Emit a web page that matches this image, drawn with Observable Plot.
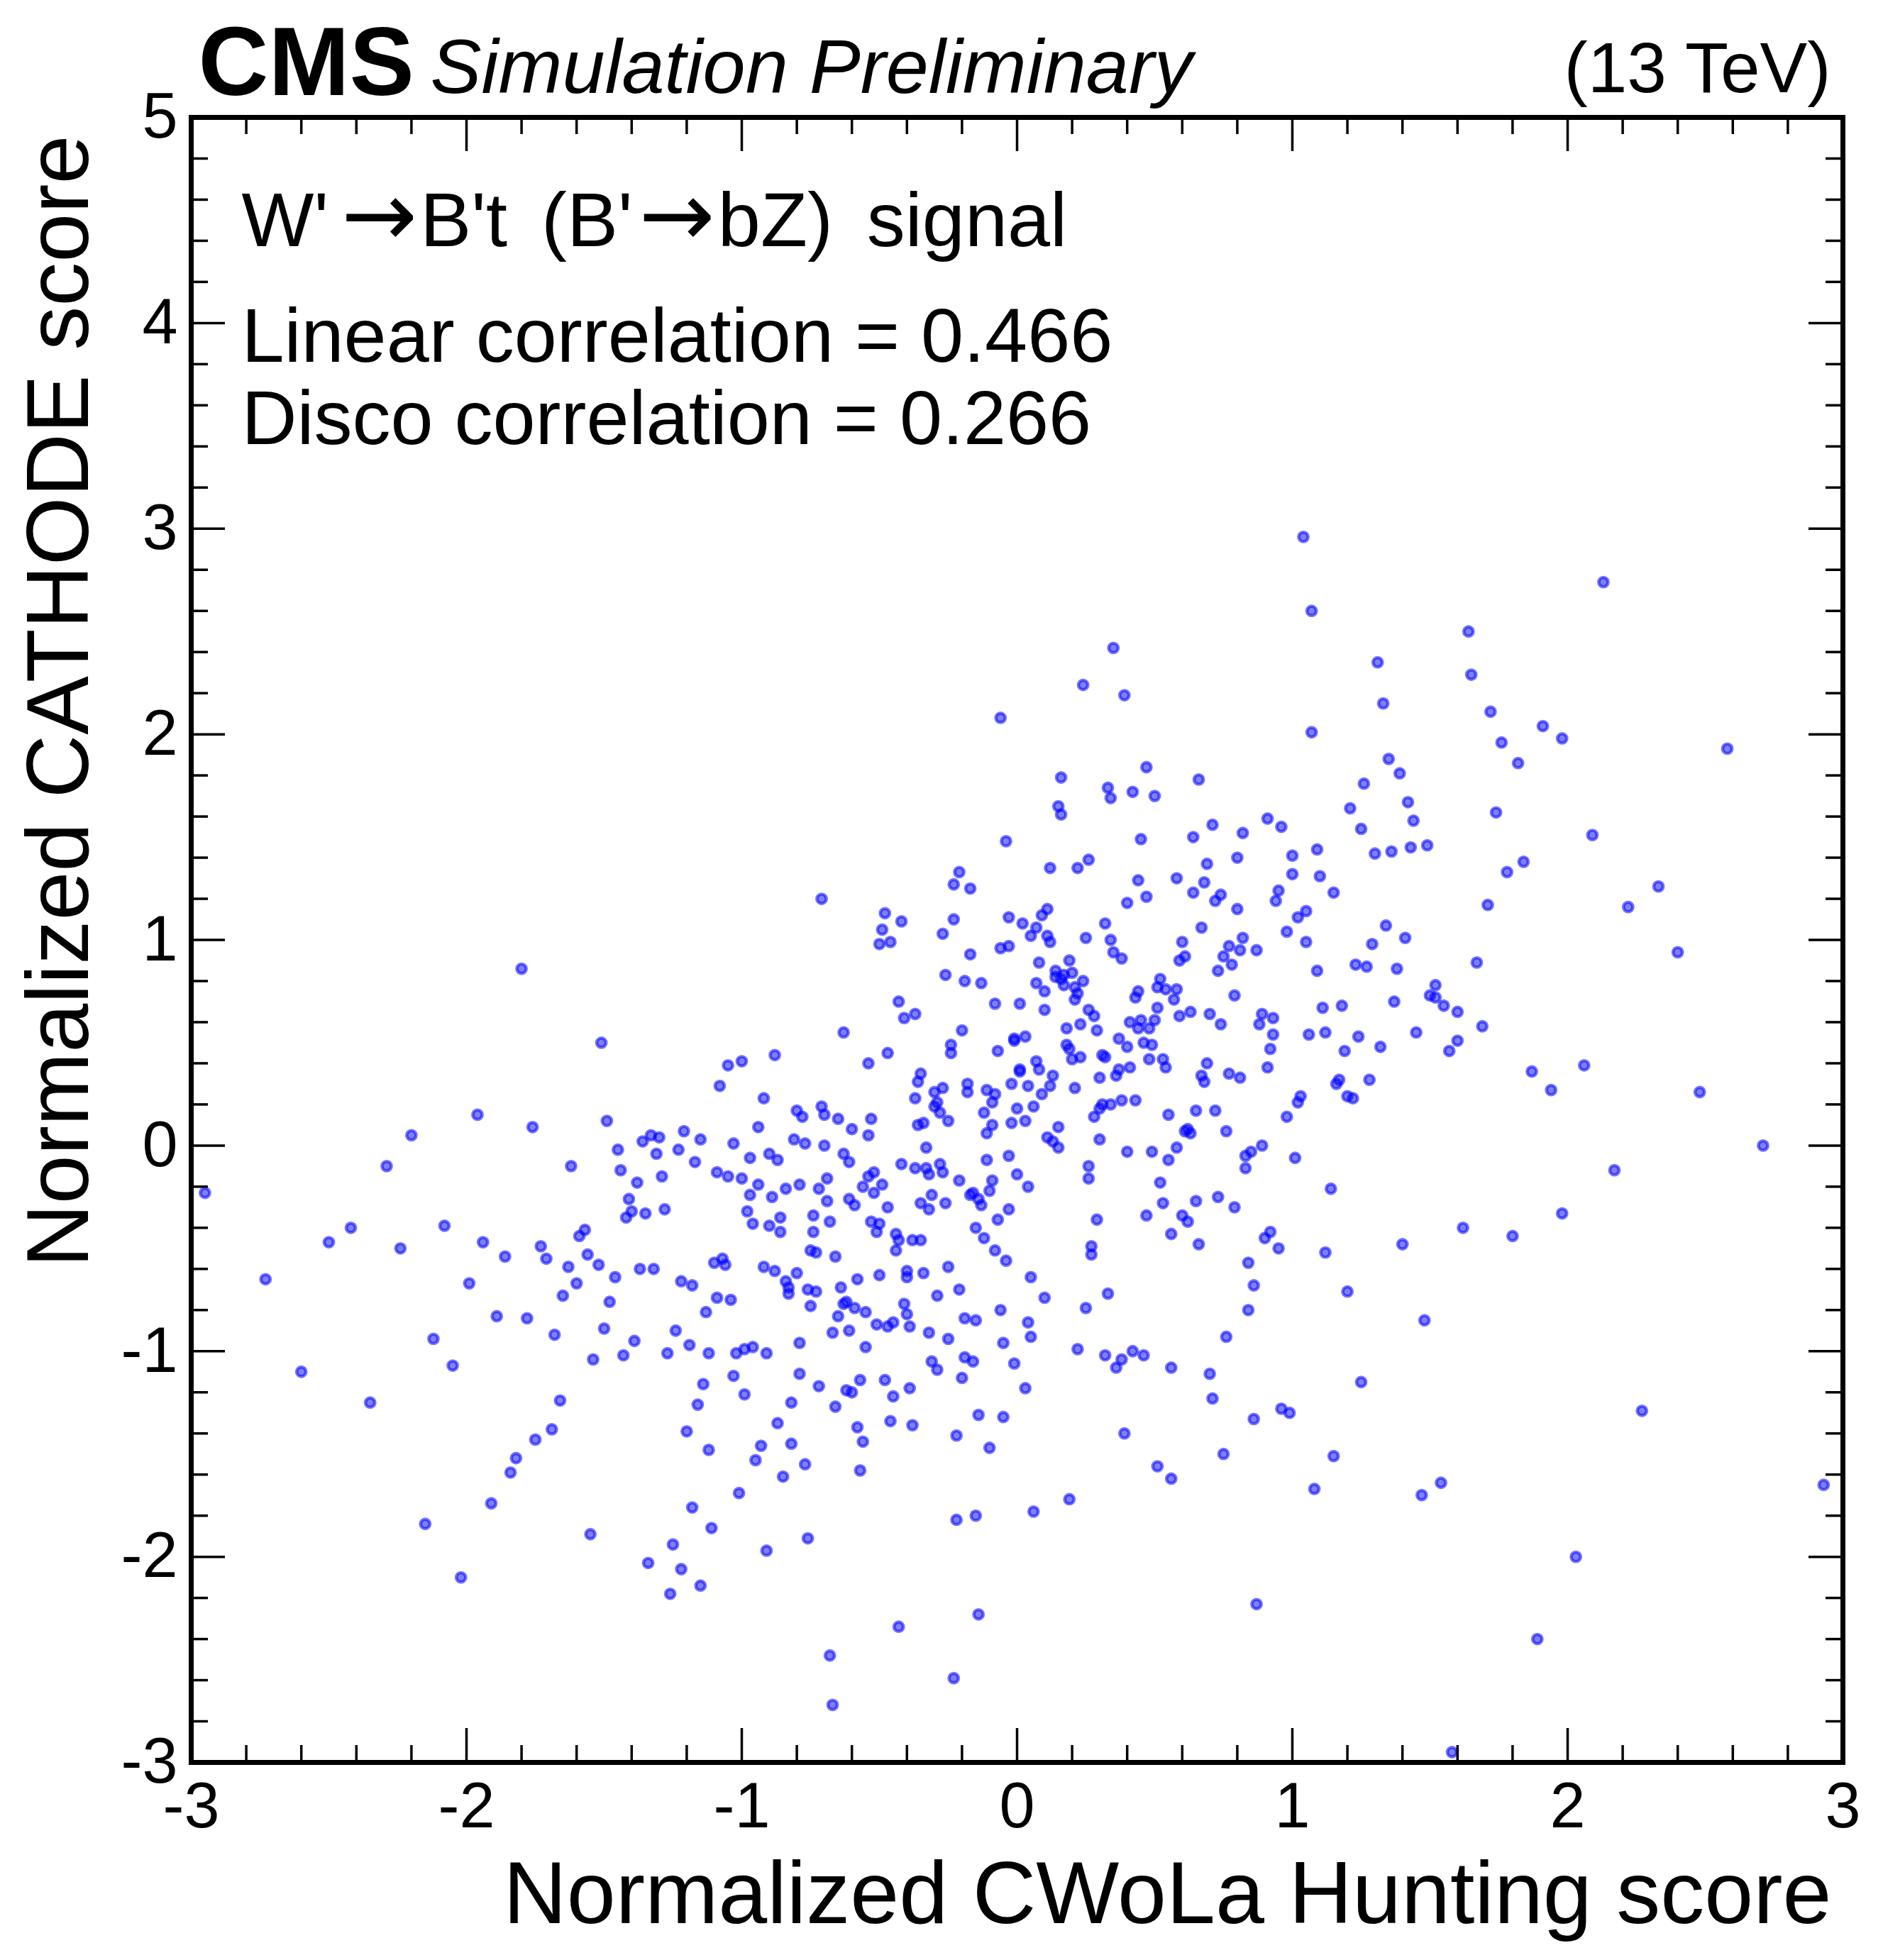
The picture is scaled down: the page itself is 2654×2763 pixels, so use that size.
<!DOCTYPE html>
<html>
<head>
<meta charset="utf-8">
<script src="https://cdn.jsdelivr.net/npm/d3@7"></script>
<script src="https://cdn.jsdelivr.net/npm/@observablehq/plot@0.6"></script>
<style>
html, body { margin: 0; padding: 0; background: #ffffff; }
#chart svg { display: block; }
</style>
</head>
<body>
<div id="chart"></div>
<script>
// ---- tick values ----
const xMajorTicks = [-3, -2, -1, 0, 1, 2, 3];
const xMinorTicks = [-2.8, -2.6, -2.4, -2.2, -1.8, -1.6, -1.4, -1.2, -0.8, -0.6, -0.4, -0.2,
  0.2, 0.4, 0.6, 0.8, 1.2, 1.4, 1.6, 1.8, 2.2, 2.4, 2.6, 2.8];
const yMajorTicks = [-3, -2, -1, 0, 1, 2, 3, 4, 5];
const yMinorTicks = [-2.8, -2.6, -2.4, -2.2, -1.8, -1.6, -1.4, -1.2, -0.8, -0.6, -0.4, -0.2,
  0.2, 0.4, 0.6, 0.8, 1.2, 1.4, 1.6, 1.8, 2.2, 2.4, 2.6, 2.8, 3.2, 3.4, 3.6, 3.8, 4.2, 4.4, 4.6, 4.8];

// ---- texts ----
const xTitle = "Normalized CWoLa Hunting score";
const yTitle = "Normalized CATHODE score";
const experimentLabel = "CMS";
const statusLabel = "Simulation Preliminary";
const energyLabel = "(13 TeV)";
const signalLabel = "W'\u2192B't (B'\u2192bZ) signal";
const linearLabel = "Linear correlation = 0.466";
const discoLabel = "Disco correlation = 0.266";

// ---- signal events: [CWoLa score, CATHODE score] ----
const coreEvents = [
[-0.50,0.98],[-0.46,0.99],[-0.17,0.93],[-0.06,0.96],[-0.03,0.97],[0.05,1.02],[0.12,0.99],[0.25,1.01],[0.34,1.00],[0.60,0.99],[0.35,0.94],[0.38,0.91],[0.59,0.90],[0.61,0.92],[0.77,0.97],[0.81,0.95],[0.87,0.95],[0.75,0.92],[0.78,0.88],[0.73,0.85],[0.08,0.89],[0.19,0.90],
[-0.26,0.83],[-0.19,0.80],[-0.13,0.79],[0.14,0.85],[0.17,0.83],[0.20,0.84],[0.14,0.82],[0.16,0.81],[0.17,0.78],[0.07,0.79],[0.10,0.75],[0.21,0.77],[0.22,0.74],[0.21,0.71],[0.24,0.80],[0.52,0.81],[0.51,0.77],[0.54,0.76],[0.58,0.76],[0.57,0.71],[0.44,0.75],[0.43,0.72],[0.79,0.73],
[-0.43,0.70],[-0.41,0.62],[-0.37,0.64],[-0.08,0.69],[0.01,0.69],[0.10,0.66],[0.26,0.66],[0.28,0.63],[0.51,0.67],[0.63,0.65],[0.59,0.63],[0.70,0.64],[0.74,0.59],[0.89,0.64],[0.93,0.62],[0.88,0.59],
[-0.63,0.55],[-0.20,0.56],[-0.01,0.52],[-0.01,0.51],[0.03,0.53],[0.18,0.57],[0.23,0.59],[0.29,0.56],[0.41,0.60],[0.45,0.61],[0.44,0.57],[0.48,0.57],[0.50,0.61],[0.93,0.54],[0.92,0.47],
[-1.00,0.41],[-0.88,0.44],[-0.54,0.40],[-0.47,0.45],[-0.24,0.49],[-0.24,0.45],[-0.07,0.46],[0.18,0.49],[0.19,0.47],[0.23,0.43],[0.20,0.42],[0.31,0.44],[0.32,0.43],[0.37,0.52],[0.40,0.48],[0.46,0.50],[0.49,0.49],[0.48,0.42],[0.53,0.42],[0.54,0.38],[0.69,0.40],[0.91,0.38],
[-0.35,0.35],[-0.36,0.31],[-0.18,0.30],[-0.18,0.26],[-0.11,0.27],[-0.08,0.25],[-0.09,0.21],[-0.02,0.30],[0.01,0.37],[0.01,0.36],[0.04,0.29],[0.07,0.41],[0.08,0.37],[0.13,0.34],[0.12,0.29],[0.09,0.25],[0.21,0.28],[0.30,0.33],[0.36,0.34],[0.37,0.37],[0.41,0.38],[0.67,0.34],[0.68,0.31],[0.77,0.35],[0.81,0.33],
[-0.30,0.26],[-0.27,0.28],[-0.37,0.23],[-0.29,0.21],[-0.30,0.19],[-0.28,0.16],[-0.25,0.12],[-0.36,0.10],[-0.34,0.11],[-0.12,0.16],[-0.09,0.10],[-0.11,0.06],[-0.02,0.11],[0.03,0.12],[0.00,0.18],[0.06,0.19],[0.31,0.20],[0.30,0.18],[0.34,0.20],[0.38,0.22],[0.43,0.22],[0.28,0.14],[0.55,0.15],[0.65,0.17],[0.72,0.17],[0.98,0.14],
[-0.92,0.23],[-0.80,0.17],[-0.78,0.14],[-0.71,0.19],[-0.70,0.15],[-0.65,0.13],[-0.53,0.13],[-0.60,0.08],[-0.54,0.05],[-0.94,0.09],
[0.15,0.09],[0.11,0.04],[0.13,0.02],[0.15,-0.01],[0.30,0.03],[0.61,0.07],[0.62,0.08],[0.63,0.06],[0.76,0.07],[0.40,-0.03],[0.49,-0.03],[0.55,-0.07],[0.58,-0.01],[0.83,-0.05],[0.85,-0.03],[0.89,0.00],[0.83,-0.11],
[-0.81,0.03],[-0.77,0.01],[-0.70,0.00],[-0.97,-0.06],[-0.90,-0.04],[-0.87,-0.07],[-0.63,-0.04],[-0.61,-0.08],[-0.33,-0.01],[-0.42,-0.09],[-0.37,-0.11],[-0.33,-0.11],[-0.32,-0.14],[-0.28,-0.09],[-0.27,-0.13],[-0.11,-0.07],[-0.03,-0.05],[0.00,-0.14],[0.26,-0.10],[0.26,-0.16],
[-1.00,-0.16],[-0.94,-0.19],[-0.84,-0.21],[-0.79,-0.19],[-0.72,-0.21],[-0.69,-0.16],[-0.56,-0.20],[-0.54,-0.15],[-0.52,-0.13],[-0.52,-0.23],[-0.49,-0.19],[-0.21,-0.17],[-0.09,-0.17],[-0.10,-0.22],[-0.17,-0.24],[-0.16,-0.23],[-0.14,-0.26],[-0.13,-0.29],[-0.31,-0.24],[-0.26,-0.28],[-0.35,-0.28],[-0.32,-0.31],[0.04,-0.20],[0.52,-0.18],
[-0.97,-0.24],[-0.89,-0.25],[-0.98,-0.32],[-0.96,-0.38],[-0.90,-0.39],[-0.86,-0.35],[-0.86,-0.42],[-0.74,-0.34],[-0.74,-0.42],[-0.68,-0.37],[-0.69,-0.27],[-0.61,-0.26],[-0.59,-0.29],[-0.47,-0.30],[-0.53,-0.37],[-0.50,-0.38],[-0.51,-0.42],[-0.44,-0.43],[-0.43,-0.46],[-0.44,-0.51],[-0.38,-0.46],[-0.35,-0.46],[-0.15,-0.40],[-0.07,-0.36],[-0.03,-0.31],[-0.12,-0.45],[-0.08,-0.51],[-0.04,-0.56],[0.29,-0.36],[0.27,-0.49],[0.27,-0.53],[0.47,-0.34],[0.53,-0.28],[0.65,-0.27],[0.73,-0.25],[0.79,-0.30],[0.60,-0.34],[0.62,-0.37],[0.56,-0.43],[0.66,-0.48],[0.92,-0.42],[0.90,-0.45],[0.95,-0.50],[0.84,-0.57],[0.86,-0.68],[0.84,-0.80],[0.76,-0.93],
[-0.75,-0.51],[-0.73,-0.52],[-0.66,-0.54],[-0.92,-0.59],[-0.88,-0.61],[-0.80,-0.62],[-0.84,-0.66],[-0.83,-0.69],[-0.83,-0.72],[-0.76,-0.70],[-0.73,-0.71],[-0.64,-0.69],[-0.58,-0.65],[-0.50,-0.63],[-0.40,-0.61],[-0.40,-0.64],[-0.34,-0.62],[-0.25,-0.59],[0.05,-0.64],[0.10,-0.74],[0.33,-0.72],[0.25,-0.79],[-0.75,-0.78],[-0.65,-0.83],[-0.63,-0.77],[-0.62,-0.76],[-0.59,-0.79],[-0.55,-0.81],[-0.41,-0.77],[-0.40,-0.82],[-0.29,-0.73],[-0.21,-0.70],[-0.06,-0.80],[-0.19,-0.84],[-0.15,-0.85],[0.04,-0.86],[0.05,-0.93],[-0.51,-0.87],[-0.47,-0.88],[-0.45,-0.86],[-0.39,-0.88],[-0.32,-0.91],[-0.25,-0.94],[-0.61,-0.90],[-0.67,-0.91],[-0.79,-0.96],[-0.55,-0.98],[-0.99,-0.99],[-0.96,-0.98],[-0.91,-1.01],[-0.05,-0.96],[0.22,-0.99],[0.32,-1.02],[0.42,-1.00],[0.46,-1.02],[0.38,-1.04]
];
const leftEvents = [
[-1.80,0.86],[-1.51,0.50],[-1.05,0.39],[-1.08,0.29],[-1.96,0.15],[-1.76,0.09],[-1.49,0.12],[-2.20,0.05],[-1.21,0.07],[-1.15,0.03],[-1.36,0.02],[-1.33,0.05],[-1.30,0.04],[-1.03,0.01],[-1.45,-0.02],[-1.23,-0.02],[-1.31,-0.04],[-1.17,-0.08],[-1.62,-0.10],[-1.44,-0.12],[-1.09,-0.13],[-1.05,-0.15],[-1.29,-0.15],[-1.38,-0.18],[-2.29,-0.10],[-2.95,-0.23],[-1.41,-0.26],[-1.40,-0.32],[-1.42,-0.35],[-1.35,-0.33],[-1.28,-0.31],[-2.42,-0.40],[-2.08,-0.39],[-1.57,-0.41],[-1.59,-0.44],[-2.50,-0.47],[-2.24,-0.50],[-1.94,-0.47],[-1.86,-0.54],[-1.73,-0.49],[-1.71,-0.55],[-1.56,-0.53],[-1.52,-0.58],[-1.63,-0.59],[-1.60,-0.67],[-1.65,-0.73],[-1.46,-0.64],[-1.37,-0.60],[-1.32,-0.60],[-1.10,-0.57],[-1.07,-0.55],[-1.06,-0.58],[-1.22,-0.66],[-1.18,-0.68],[-1.09,-0.74],[-1.04,-0.75],[-1.48,-0.76],[-1.13,-0.81],[-2.73,-0.65],[-1.99,-0.67],[-1.89,-0.83],[-1.78,-0.84],[-2.12,-0.94],[-1.68,-0.92],[-1.50,-0.89],[-1.39,-0.95],[-1.24,-0.90],[-1.19,-0.97],[-1.02,-1.01]
];
const lowerLeftEvents = [
[-1.54,-1.04],[-1.43,-1.02],[-1.27,-1.01],[-1.12,-1.01],[-2.60,-1.10],[-2.05,-1.07],[-2.35,-1.25],[-1.66,-1.24],[-1.03,-1.12],[-1.14,-1.16],[-1.16,-1.26],[-1.20,-1.39],[-1.69,-1.38],[-1.75,-1.43],[-1.82,-1.52],[-1.84,-1.59],[-1.12,-1.48],[-1.01,-1.69],[-1.18,-1.76],[-1.11,-1.86],[-1.91,-1.74],[-2.15,-1.84],[-1.55,-1.89],[-1.25,-1.94],[-2.02,-2.10],[-1.34,-2.03],[-1.22,-2.06],[-1.15,-2.14],[-1.26,-2.18]
];
const lowerEvents = [
[-0.99,-1.21],[-0.79,-1.11],[-0.72,-1.17],[-0.82,-1.25],[-0.62,-1.19],[-0.60,-1.20],[-0.57,-1.14],[-0.66,-1.27],[-0.48,-1.14],[-0.45,-1.22],[-0.39,-1.18],[-0.31,-1.05],[-0.29,-1.09],[-0.19,-1.03],[-0.16,-1.05],[-0.20,-1.13],[-0.01,-1.06],[0.03,-1.18],[0.36,-1.08],[0.56,-1.08],[0.70,-1.11],[0.71,-1.23],[-0.87,-1.35],[-0.93,-1.46],[-0.82,-1.45],[-0.95,-1.53],[-0.77,-1.55],[-0.85,-1.61],[-0.58,-1.37],[-0.56,-1.44],[-0.57,-1.58],[-0.46,-1.34],[-0.38,-1.36],[-0.22,-1.41],[-0.14,-1.31],[-0.05,-1.32],[-0.10,-1.47],[0.39,-1.40],[0.75,-1.50],[0.86,-1.33],[0.96,-1.28],[0.99,-1.30],[0.51,-1.56],[0.56,-1.62],[0.19,-1.72],[0.06,-1.78],[-0.22,-1.82],[-0.15,-1.80],[-0.76,-1.91],[-0.91,-1.97],[0.87,-2.23],[-0.14,-2.28],[-0.43,-2.34],[-0.68,-2.48],[-0.23,-2.59],[-0.67,-2.72]
];
const lowerRightEvents = [
[1.25,-1.15],[1.15,-1.51],[1.08,-1.67],[1.47,-1.70],[1.54,-1.64],[2.27,-1.29],[2.93,-1.65],[2.03,-2.00],[1.89,-2.40],[1.58,-2.95]
];
const rightEvents = [
[2.40,0.94],[1.67,0.89],[1.09,0.85],[1.23,0.88],[1.27,0.87],[1.38,0.86],[1.52,0.78],[1.50,0.73],[1.52,0.72],[1.55,0.68],[1.60,0.65],[1.69,0.58],[1.11,0.67],[1.18,0.68],[1.37,0.70],[1.06,0.54],[1.12,0.55],[1.24,0.53],[1.45,0.55],[1.19,0.46],[1.32,0.48],[1.60,0.51],[1.57,0.46],[1.17,0.32],[1.16,0.30],[1.28,0.32],[1.03,0.24],[1.02,0.21],[1.20,0.24],[1.22,0.23],[1.87,0.36],[1.94,0.27],[2.06,0.39],[2.48,0.26],[2.71,0.00],[1.01,-0.06],[2.17,-0.12],[1.14,-0.21],[1.98,-0.33],[1.62,-0.40],[1.80,-0.44],[1.40,-0.48],[1.12,-0.52],[1.20,-0.71],[1.48,-0.85]
];
const upperRightEvents = [
[1.04,2.96],[2.13,2.74],[1.07,2.60],[1.64,2.50],[1.31,2.35],[1.65,2.29],[1.33,2.15],[1.72,2.11],[1.91,2.04],[1.98,1.98],[1.07,2.01],[1.76,1.96],[2.58,1.93],[1.82,1.86],[1.35,1.88],[1.39,1.81],[1.26,1.76],[1.21,1.64],[1.42,1.67],[1.74,1.62],[1.44,1.58],[1.25,1.54],[2.09,1.51],[1.00,1.41],[1.09,1.44],[1.30,1.42],[1.36,1.43],[1.43,1.45],[1.49,1.46],[1.00,1.32],[1.10,1.31],[1.84,1.38],[1.78,1.33],[1.15,1.23],[2.33,1.26],[1.05,1.14],[1.02,1.11],[1.71,1.17],[2.22,1.16],[1.34,1.07],[1.05,0.99],[1.29,0.98],[1.41,1.01]
];
const upperEvents = [
[0.35,2.42],[0.24,2.24],[0.39,2.19],[-0.06,2.08],[0.47,1.84],[0.16,1.79],[0.66,1.78],[0.33,1.74],[0.34,1.69],[0.42,1.72],[0.50,1.70],[0.15,1.65],[0.16,1.61],[0.91,1.59],[0.96,1.55],[0.71,1.56],[0.82,1.52],[0.64,1.50],[0.45,1.49],[-0.04,1.48],[0.80,1.40],[0.69,1.37],[-0.21,1.33],[-0.23,1.27],[-0.17,1.25],[0.12,1.35],[0.22,1.35],[0.26,1.39],[0.44,1.29],[0.58,1.30],[0.68,1.28],[0.64,1.23],[0.74,1.22],[0.72,1.19],[0.95,1.24],[0.94,1.19],[0.47,1.21],[0.40,1.18],[0.80,1.15],[-0.71,1.20],[-0.48,1.13],[-0.42,1.09],[-0.49,1.05],[-0.23,1.10],[-0.27,1.03],[-0.03,1.11],[0.02,1.08],[0.11,1.15],[0.09,1.12],[0.07,1.06],[0.11,1.02],[0.32,1.08],[0.67,1.06],[0.82,1.01],[0.98,1.04]
];

// ---- layout / style ----
const W = 2654, H = 2763;
const mL = 269, mR = 57, mT = 165, mB = 279;
const innerW = W - mL - mR, innerH = H - mT - mB;
const MAJOR = 48, MINOR = 24, TICKW = 3.5;
const fontFamily = "'Liberation Sans', Arial, Helvetica, sans-serif";

const events = [].concat(coreEvents, leftEvents, lowerLeftEvents, lowerEvents,
  lowerRightEvents, rightEvents, upperRightEvents, upperEvents)
  .map(([cwola, cathode]) => ({cwola, cathode}));

const id = d => d;
const tickStyle = {stroke: "black", strokeWidth: TICKW};

const chart = Plot.plot({
  width: W,
  height: H,
  marginLeft: mL,
  marginRight: mR,
  marginTop: mT,
  marginBottom: mB,
  x: {domain: [-3, 3], label: null},
  y: {domain: [-3, 5], label: null},
  style: {fontFamily, background: "#ffffff", color: "black", overflow: "visible"},
  marks: [
    Plot.dot(events, {
      x: "cwola", y: "cathode", r: 6.6,
      fill: "#0000ff", fillOpacity: 0.5,
      stroke: "#0000ff", strokeOpacity: 0.55, strokeWidth: 4.6
    }),
    // inward ticks on all four sides
    Plot.tickX(xMajorTicks, {x: id, insetTop: innerH - MAJOR, ...tickStyle}),
    Plot.tickX(xMajorTicks, {x: id, insetBottom: innerH - MAJOR, ...tickStyle}),
    Plot.tickX(xMinorTicks, {x: id, insetTop: innerH - MINOR, ...tickStyle}),
    Plot.tickX(xMinorTicks, {x: id, insetBottom: innerH - MINOR, ...tickStyle}),
    Plot.tickY(yMajorTicks, {y: id, insetRight: innerW - MAJOR, ...tickStyle}),
    Plot.tickY(yMajorTicks, {y: id, insetLeft: innerW - MAJOR, ...tickStyle}),
    Plot.tickY(yMinorTicks, {y: id, insetRight: innerW - MINOR, ...tickStyle}),
    Plot.tickY(yMinorTicks, {y: id, insetLeft: innerW - MINOR, ...tickStyle}),
    Plot.frame({stroke: "black", strokeWidth: 7}),
    Plot.axisX(xMajorTicks, {tickSize: 0, tickPadding: 28, fontSize: 90, tickFormat: d => String(d), label: null}),
    Plot.axisY(yMajorTicks, {tickSize: 0, tickPadding: 19, fontSize: 90, tickFormat: d => String(d), label: null}),
    // axis titles
    Plot.text([xTitle], {frameAnchor: "bottom-right", textAnchor: "end", lineAnchor: "bottom",
      dx: -16, dy: 226, fontSize: 124}),
    Plot.text([yTitle], {frameAnchor: "top-left", textAnchor: "end", lineAnchor: "bottom",
      rotate: -90, dx: -146, dy: 25, fontSize: 124}),
    // header
    Plot.text([experimentLabel], {frameAnchor: "top-left", textAnchor: "start", lineAnchor: "bottom",
      dx: 10, dy: -32, fontSize: 137, fontWeight: "bold"}),
    Plot.text([statusLabel], {frameAnchor: "top-left", textAnchor: "start", lineAnchor: "bottom",
      dx: 337, dy: -35, fontSize: 108, fontStyle: "italic"}),
    Plot.text([energyLabel], {frameAnchor: "top-right", textAnchor: "end", lineAnchor: "bottom",
      dx: -17, dy: -36, fontSize: 100}),
    // in-frame annotations
    Plot.text([signalLabel], {frameAnchor: "top-left", textAnchor: "start", lineAnchor: "bottom",
      dx: 71, dy: 181, fontSize: 108}),
    Plot.text([linearLabel], {frameAnchor: "top-left", textAnchor: "start", lineAnchor: "bottom",
      dx: 71, dy: 344, fontSize: 108}),
    Plot.text([discoLabel], {frameAnchor: "top-left", textAnchor: "start", lineAnchor: "bottom",
      dx: 71, dy: 460, fontSize: 108})
  ]
});

// draw the arrows of the signal label larger (as in ROOT's #rightarrow)
const arrowGapBefore = [18, 9];
d3.select(chart).selectAll("text")
  .filter(function() { return this.textContent === signalLabel; })
  .each(function() {
    const t = d3.select(this).attr("word-spacing", 18);
    const parts = signalLabel.split("\u2192");
    t.text(null);
    parts.forEach((p, i) => {
      t.append("tspan").attr("dx", i ? 4 : 0).text(p);
      if (i < parts.length - 1) {
        t.append("tspan")
          .attr("dx", arrowGapBefore[i])
          .attr("font-family", "'DejaVu Sans'")
          .attr("font-size", 128)
          .text("\u2192");
      }
    });
  });

document.getElementById("chart").appendChild(chart);
</script>
</body>
</html>
